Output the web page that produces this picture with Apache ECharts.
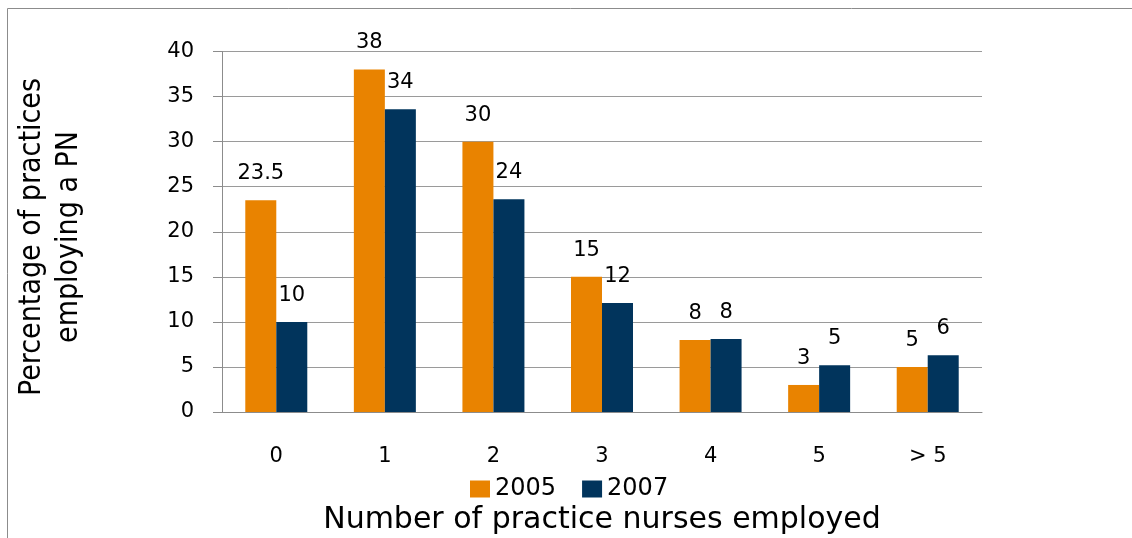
<!DOCTYPE html>
<html>
<head>
<meta charset="utf-8">
<script src="https://cdn.jsdelivr.net/npm/echarts@6/dist/echarts.min.js"></script>
<style>
  html, body { margin: 0; height: 100%; background: #fff; }
  #chart { width: 1132px; height: 538px; }
</style>
</head>
<body>
<div id="chart"></div>
<script>
// categories and values
var categories = ['0', '1', '2', '3', '4', '5', '> 5'];
var values2005 = [23.5, 38, 30, 15, 8, 3, 5];
var values2007 = [10, 33.6, 23.6, 12.1, 8.1, 5.2, 6.3];
var yTicks = [0, 5, 10, 15, 20, 25, 30, 35, 40];

var font = 'DejaVu Sans';
var myChart = echarts.init(document.getElementById('chart'));

function barLabel(round) {
  return {
    show: true,
    position: 'top',
    distance: 16,
    fontFamily: font,
    fontSize: 21,
    color: '#000',
    formatter: function (p) {
      return round ? String(Math.round(p.value)) : String(p.value);
    }
  };
}

myChart.setOption({
  animation: false,
  grid: { left: 222, right: 150, top: 51.5, bottom: 126, outerBoundsMode: 'none' },
  legend: {
    data: ['2005', '2007'],
    left: 465,
    top: 472,
    itemWidth: 20,
    itemHeight: 17,
    itemGap: 26,
    icon: 'rect',
    textStyle: { fontFamily: font, fontSize: 24, color: '#000' }
  },
  xAxis: {
    type: 'category',
    data: categories,
    name: 'Number of practice nurses employed',
    nameLocation: 'middle',
    nameGap: 93,
    nameTextStyle: { fontFamily: font, fontSize: 30, color: '#000' },
    axisLine: { lineStyle: { color: '#8c8c8c' } },
    axisTick: { length: 7, lineStyle: { color: '#8c8c8c' } },
    axisLabel: { margin: 34, fontFamily: font, fontSize: 21, color: '#000' }
  },
  yAxis: {
    type: 'value',
    min: yTicks[0],
    max: yTicks[yTicks.length - 1],
    interval: 5,
    axisLine: { show: true, lineStyle: { color: '#8c8c8c' } },
    axisTick: { show: true, length: 9, lineStyle: { color: '#8c8c8c' } },
    axisLabel: { margin: 28, fontFamily: font, fontSize: 21, color: '#000' },
    splitLine: { lineStyle: { color: '#9a9a9a' } }
  },
  series: [
    {
      name: '2005',
      type: 'bar',
      data: values2005,
      barWidth: 31,
      barGap: '0%',
      itemStyle: { color: '#E98300' },
      label: barLabel(false)
    },
    {
      name: '2007',
      type: 'bar',
      data: values2007,
      barWidth: 31,
      barGap: '0%',
      itemStyle: { color: '#01345C' },
      label: barLabel(true)
    }
  ],
  graphic: [
    {
      type: 'rect',
      shape: { x: 7.5, y: 8.5, width: 1200, height: 600 },
      style: { fill: 'none', stroke: '#8c8c8c', lineWidth: 1 },
      silent: true
    },
    {
      // y axis title, two lines, rotated
      type: 'text',
      x: 51,
      y: 237,
      rotation: Math.PI / 2,
      style: {
        text: 'Percentage of practices\nemploying a PN',
        font: '30px "DejaVu Sans Condensed", "DejaVu Sans"',
        lineHeight: 37,
        fill: '#000',
        align: 'center',
        verticalAlign: 'middle'
      },
      silent: true
    }
  ]
});
</script>
</body>
</html>
